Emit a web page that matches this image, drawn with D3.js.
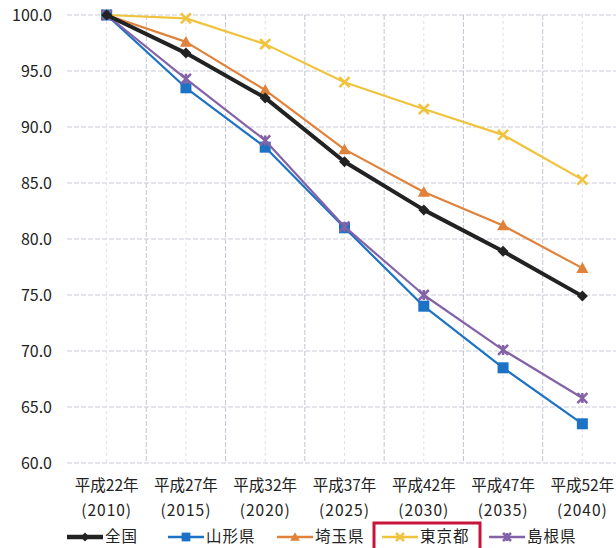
<!DOCTYPE html>
<html>
<head>
<meta charset="utf-8">
<script src="https://cdn.jsdelivr.net/npm/d3@7"></script>
<style>
  html, body { margin: 0; padding: 0; background: #fff; }
  svg { display: block; }
  text { font-family: "Noto Sans CJK JP", "Noto Sans", sans-serif; fill: #222; }
</style>
</head>
<body>
<svg id="chart" width="616" height="548"></svg>
<script>
// Year categories (Heisei era label + Gregorian year)
const eraLabels = ["平成22年", "平成27年", "平成32年", "平成37年", "平成42年", "平成47年", "平成52年"];
const yearLabels = ["(2010)", "(2015)", "(2020)", "(2025)", "(2030)", "(2035)", "(2040)"];

// Population index (2010 = 100)
const zenkoku   = [100, 96.6, 92.6, 86.9, 82.6, 78.9, 74.9];
const yamagata  = [100, 93.5, 88.2, 81.0, 74.0, 68.5, 63.5];
const saitama   = [100, 97.6, 93.3, 88.0, 84.2, 81.2, 77.4];
const tokyo     = [100, 99.7, 97.4, 94.0, 91.6, 89.3, 85.3];
const shimane   = [100, 94.3, 88.8, 81.1, 75.0, 70.1, 65.8];

const seriesNames = ["全国", "山形県", "埼玉県", "東京都", "島根県"];
const yTicks = [60, 65, 70, 75, 80, 85, 90, 95, 100];

const series = [
  { name: seriesNames[0], values: zenkoku,  color: "#222222", width: 4,   marker: "diamond", size: 11 },
  { name: seriesNames[1], values: yamagata, color: "#1c72c4", width: 2.2, marker: "square",  size: 11 },
  { name: seriesNames[2], values: saitama,  color: "#e0823a", width: 2.2, marker: "triangle",size: 12 },
  { name: seriesNames[3], values: tokyo,    color: "#f0c33c", width: 2.2, marker: "x",       size: 10 },
  { name: seriesNames[4], values: shimane,  color: "#8462a8", width: 2.2, marker: "star",    size: 10 }
];

const svg = d3.select("#chart");
const plot = { left: 67, right: 622, top: 15, bottom: 463 };

const x = d3.scaleBand().domain(eraLabels).range([plot.left, plot.right]);
const y = d3.scaleLinear().domain([60, 100]).range([plot.bottom, plot.top]);
const cx = i => x(eraLabels[i]) + x.bandwidth() / 2;

// Gridlines
const grid = svg.append("g");
grid.selectAll("line.h").data(yTicks).join("line")
  .attr("x1", plot.left).attr("x2", plot.right)
  .attr("y1", d => y(d)).attr("y2", d => y(d))
  .attr("stroke", "#c9ccd6").attr("stroke-width", 1).attr("stroke-dasharray", "5,2");
// Category boundaries
grid.selectAll("line.vb").data(d3.range(1, eraLabels.length)).join("line")
  .attr("x1", i => x(eraLabels[i])).attr("x2", i => x(eraLabels[i]))
  .attr("y1", plot.top).attr("y2", plot.bottom)
  .attr("stroke", "#c3c6d2").attr("stroke-width", 1).attr("stroke-dasharray", "5,2");
// Category centres (minor)
grid.selectAll("line.vc").data(d3.range(0, eraLabels.length)).join("line")
  .attr("x1", i => cx(i)).attr("x2", i => cx(i))
  .attr("y1", plot.top).attr("y2", plot.bottom)
  .attr("stroke", "#e0e2e8").attr("stroke-width", 1).attr("stroke-dasharray", "3,3");

// Y axis labels
const yAxis = d3.axisLeft(y).tickValues(yTicks).tickFormat(d3.format(".1f")).tickSize(0).tickPadding(0);
svg.append("g").attr("transform", `translate(52,0)`).call(yAxis)
  .call(g => g.select(".domain").remove())
  .selectAll("text").style("font-size", "16px").attr("fill", "#222").attr("dy", "0.36em");

// X axis labels (two lines)
const xAxis = d3.axisBottom(x).tickSize(0).tickPadding(0);
const xg = svg.append("g").attr("transform", `translate(0,${plot.bottom})`).call(xAxis);
xg.select(".domain").remove();
xg.selectAll("text").remove();
xg.selectAll(".tick").each(function(d, i) {
  const t = d3.select(this).append("text").attr("text-anchor", "middle")
    .style("font-size", "15.5px").attr("fill", "#222");
  t.append("tspan").attr("x", 0).attr("y", 28).text(eraLabels[i]);
  t.append("tspan").attr("x", 0).attr("y", 53).style("letter-spacing", "1px").text(yearLabels[i]);
});

// Marker shapes
function drawMarker(g, type, size, color) {
  const s = size / 2;
  if (type === "diamond") {
    g.append("path").attr("d", `M0,${-s}L${s},0L0,${s}L${-s},0Z`).attr("fill", color);
  } else if (type === "square") {
    g.append("rect").attr("x", -s).attr("y", -s).attr("width", size).attr("height", size).attr("fill", color);
  } else if (type === "triangle") {
    g.append("path").attr("d", `M0,${-s}L${s},${s * 0.8}L${-s},${s * 0.8}Z`).attr("fill", color);
  } else if (type === "x") {
    g.append("path").attr("d", `M${-s},${-s}L${s},${s}M${s},${-s}L${-s},${s}`)
      .attr("stroke", color).attr("stroke-width", 2.5).attr("fill", "none");
  } else if (type === "star") {
    g.append("path").attr("d", `M${-s},${-s}L${s},${s}M${s},${-s}L${-s},${s}M0,${-s}L0,${s}`)
      .attr("stroke", color).attr("stroke-width", 2.5).attr("fill", "none");
  }
}

// Lines and markers (draw back to front)
const line = d3.line().x((d, i) => cx(i)).y(d => y(d));
const order = [3, 2, 1, 4, 0];
order.forEach(k => {
  const s = series[k];
  const g = svg.append("g");
  g.append("path").datum(s.values).attr("d", line)
    .attr("fill", "none").attr("stroke", s.color).attr("stroke-width", s.width).attr("stroke-linejoin", "round");
  s.values.forEach((v, i) => {
    const m = g.append("g").attr("transform", `translate(${cx(i)},${y(v)})`);
    drawMarker(m, s.marker, s.size, s.color);
  });
});

// Legend
const legendX = [67, 168, 277, 382, 489];
const legend = svg.append("g");
series.forEach((s, k) => {
  const g = legend.append("g").attr("transform", `translate(${legendX[k]},537)`);
  g.append("line").attr("x1", 0).attr("x2", 36).attr("y1", 0).attr("y2", 0)
    .attr("stroke", s.color).attr("stroke-width", s.width === 4 ? 4.5 : 2.5);
  const m = g.append("g").attr("transform", "translate(18,0)");
  drawMarker(m, s.marker, s.size * 0.8, s.color);
  g.append("text").attr("x", 38).attr("y", 0).attr("dy", "0.34em")
    .style("font-size", "15.5px").style("letter-spacing", "1px").text(s.name);
});

// Highlight box around the Tokyo legend entry
legend.append("rect").attr("x", 374).attr("y", 523).attr("width", 106).attr("height", 30)
  .attr("fill", "none").attr("stroke", "#c8143c").attr("stroke-width", 3);
</script>
</body>
</html>
